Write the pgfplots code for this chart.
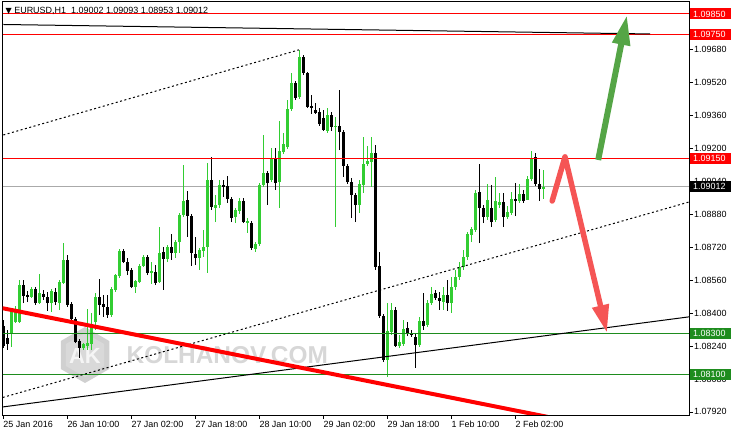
\documentclass[border=0pt]{standalone}
\usepackage{fontspec}
\setmainfont{Liberation Sans}
\newfontfamily\dejavu{DejaVu Sans}
\usepackage{pgfplots}
\pgfplotsset{compat=1.18}
\usepackage{pgfplotstable}
\usetikzlibrary{arrows.meta}
\definecolor{bull}{RGB}{50,205,50}
\definecolor{lvlgreen}{RGB}{30,140,30}
\definecolor{arrowgreen}{RGB}{85,165,70}
\definecolor{arrowred}{RGB}{245,85,85}
\definecolor{bidgray}{RGB}{170,170,170}
\definecolor{wm}{RGB}{192,192,192}

\pgfplotstableread{
i o h l c
0 1.08337 1.08366 1.08230 1.08240
1 1.08279 1.08318 1.08221 1.08250
5 1.08536 1.08560 1.08448 1.08482
6 1.08487 1.08507 1.08453 1.08478
8 1.08516 1.08526 1.08439 1.08448
10 1.08492 1.08512 1.08463 1.08478
11 1.08478 1.08502 1.08410 1.08448
13 1.08502 1.08521 1.08439 1.08453
16 1.08657 1.08681 1.08429 1.08439
17 1.08444 1.08453 1.08366 1.08371
18 1.08371 1.08381 1.08254 1.08259
19 1.08264 1.08274 1.08182 1.08230
24 1.08478 1.08565 1.08390 1.08439
25 1.08444 1.08487 1.08381 1.08429
26 1.08429 1.08487 1.08376 1.08390
30 1.08701 1.08710 1.08642 1.08647
31 1.08647 1.08667 1.08584 1.08604
32 1.08609 1.08618 1.08521 1.08526
36 1.08672 1.08681 1.08584 1.08594
38 1.08599 1.08633 1.08536 1.08546
40 1.08696 1.08720 1.08512 1.08662
42 1.08720 1.08783 1.08657 1.08691
46 1.08948 1.08992 1.08769 1.08870
47 1.08870 1.08880 1.08628 1.08691
48 1.08686 1.08769 1.08633 1.08667
52 1.09045 1.09157 1.08900 1.08914
55 1.09021 1.09045 1.08963 1.09011
56 1.09016 1.09064 1.08934 1.08953
57 1.08953 1.08963 1.08841 1.08861
60 1.08943 1.08958 1.08836 1.08841
62 1.08836 1.08846 1.08706 1.08715
66 1.09079 1.09089 1.08924 1.09030
68 1.09152 1.09200 1.08997 1.09030
73 1.09515 1.09525 1.09433 1.09443
75 1.09642 1.09651 1.09554 1.09564
76 1.09564 1.09569 1.09394 1.09399
77 1.09404 1.09457 1.09365 1.09394
78 1.09385 1.09418 1.09365 1.09370
79 1.09375 1.09394 1.09307 1.09317
80 1.09346 1.09385 1.09283 1.09288
82 1.09360 1.09375 1.09283 1.09302
84 1.09307 1.09482 1.09190 1.09278
85 1.09278 1.09288 1.09060 1.09113
86 1.09113 1.09123 1.09026 1.09035
87 1.09035 1.09055 1.08861 1.08972
88 1.08972 1.08982 1.08841 1.08924
93 1.09176 1.09215 1.08609 1.08623
94 1.08628 1.08696 1.08376 1.08386
95 1.08386 1.08395 1.08162 1.08172
98 1.08415 1.08429 1.08235 1.08240
101 1.08327 1.08356 1.08288 1.08298
102 1.08303 1.08318 1.08284 1.08293
103 1.08284 1.08298 1.08133 1.08245
105 1.08361 1.08497 1.08318 1.08337
108 1.08497 1.08512 1.08463 1.08473
109 1.08473 1.08502 1.08415 1.08458
111 1.08487 1.08560 1.08410 1.08448
119 1.08987 1.09123 1.08739 1.08909
120 1.08909 1.08924 1.08836 1.08866
122 1.08909 1.09021 1.08817 1.08841
125 1.08938 1.08982 1.08817 1.08866
128 1.08953 1.09030 1.08870 1.08943
130 1.08977 1.08997 1.08934 1.08943
133 1.09157 1.09176 1.09016 1.09026
134 1.09026 1.09098 1.08943 1.09000
}\bear

\pgfplotstableread{
i o h l c
2 1.08303 1.08415 1.08235 1.08410
3 1.08356 1.08434 1.08352 1.08415
4 1.08356 1.08560 1.08352 1.08536
7 1.08478 1.08526 1.08473 1.08516
9 1.08448 1.08589 1.08444 1.08497
12 1.08448 1.08516 1.08405 1.08507
14 1.08448 1.08560 1.08415 1.08550
15 1.08546 1.08739 1.08541 1.08657
20 1.08230 1.08254 1.08221 1.08250
21 1.08240 1.08419 1.08221 1.08254
22 1.08250 1.08400 1.08221 1.08347
23 1.08356 1.08497 1.08318 1.08478
27 1.08390 1.08526 1.08381 1.08516
28 1.08512 1.08589 1.08502 1.08584
29 1.08579 1.08710 1.08570 1.08701
33 1.08526 1.08560 1.08497 1.08555
34 1.08550 1.08638 1.08546 1.08628
35 1.08628 1.08681 1.08623 1.08672
37 1.08594 1.08647 1.08541 1.08604
39 1.08550 1.08817 1.08546 1.08691
41 1.08662 1.08730 1.08647 1.08720
43 1.08691 1.08754 1.08667 1.08744
44 1.08744 1.08885 1.08691 1.08875
45 1.08875 1.09118 1.08866 1.08943
49 1.08667 1.08715 1.08609 1.08706
50 1.08701 1.08803 1.08672 1.08720
51 1.08720 1.09127 1.08594 1.09045
53 1.08909 1.08972 1.08841 1.08924
54 1.08924 1.09045 1.08909 1.09021
58 1.08866 1.08909 1.08836 1.08900
59 1.08895 1.08958 1.08880 1.08943
61 1.08836 1.08861 1.08788 1.08846
63 1.08710 1.08744 1.08696 1.08735
64 1.08735 1.09030 1.08725 1.09021
65 1.09021 1.09263 1.09011 1.09079
67 1.09045 1.09200 1.09035 1.09147
69 1.09035 1.09331 1.08909 1.09186
70 1.09181 1.09273 1.09171 1.09220
71 1.09205 1.09433 1.09195 1.09389
72 1.09389 1.09564 1.09380 1.09515
74 1.09448 1.09676 1.09438 1.09642
81 1.09283 1.09394 1.09273 1.09360
83 1.09302 1.09351 1.08817 1.09307
89 1.08924 1.09045 1.08885 1.09026
90 1.09021 1.09254 1.08982 1.09123
91 1.09123 1.09210 1.09113 1.09137
92 1.09132 1.09254 1.09011 1.09176
96 1.08172 1.08448 1.08090 1.08313
97 1.08308 1.08448 1.08293 1.08415
99 1.08240 1.08293 1.08230 1.08259
100 1.08250 1.08366 1.08240 1.08322
104 1.08245 1.08381 1.08235 1.08361
106 1.08342 1.08463 1.08332 1.08448
107 1.08448 1.08526 1.08439 1.08492
110 1.08453 1.08526 1.08415 1.08487
112 1.08448 1.08575 1.08400 1.08526
113 1.08526 1.08609 1.08512 1.08575
114 1.08575 1.08647 1.08560 1.08623
115 1.08623 1.08706 1.08609 1.08672
116 1.08672 1.08793 1.08657 1.08783
117 1.08778 1.08817 1.08744 1.08807
118 1.08803 1.08997 1.08793 1.08982
121 1.08866 1.09026 1.08851 1.08948
123 1.08851 1.09060 1.08841 1.08943
124 1.08924 1.08982 1.08909 1.08938
126 1.08866 1.08919 1.08856 1.08890
127 1.08885 1.08987 1.08875 1.08953
129 1.08943 1.09026 1.08934 1.08977
131 1.08948 1.09064 1.08948 1.09050
132 1.09050 1.09186 1.09040 1.09147
135 1.09002 1.09093 1.08953 1.09012
}\bull

\newcommand{\tf}{\fontsize{9}{9.5}\selectfont}

\begin{document}
\begin{tikzpicture}[x=1bp,y=1bp]
% watermark (background)
\begin{scope}[opacity=0.75]
  \fill[wm] (82.5,60) +(90:28) -- +(150:28) -- +(210:28) -- +(270:28) -- +(330:28) -- +(30:28) -- cycle;
  \fill[wm!55] (82.5,60) +(90:22) -- +(150:22) -- +(210:22) -- +(270:22) -- +(330:22) -- +(30:22) -- cycle;
  \node[text=white, font=\bfseries\fontsize{22}{22}\selectfont, inner sep=0pt] at (82.5,59) {AK};
  \node[anchor=west, text=wm!85, font=\bfseries\fontsize{24.5}{24.5}\selectfont, inner sep=0pt] at (124,60) {KOLHANOV.COM};
\end{scope}

\begin{axis}[
  at={(0,0)}, anchor=south west, scale only axis,
  width=686.5bp, height=414bp,
  xmin=-0.2, xmax=171.4, ymin=1.07905, ymax=1.09913,
  axis line style={line width=0.8bp, black},
  tick style={line width=0.8bp, black},
  tick align=outside, major tick length=4bp,
  xtick pos=bottom, ytick pos=right,
  xtick={0,16,32,48,64,80,96,112,128},
  xticklabels={25 Jan 2016, 26 Jan 10:00, 27 Jan 02:00, 27 Jan 18:00, 28 Jan 10:00, 29 Jan 02:00, 29 Jan 18:00, 1 Feb 10:00, 2 Feb 02:00},
  ytick={1.0792,1.0808,1.0824,1.0840,1.0856,1.0872,1.0888,1.0904,1.0920,1.0936,1.0952,1.0968},
  yticklabels={1.07920,1.08080,1.08240,1.08400,1.08560,1.08720,1.08880,1.09040,1.09200,1.09360,1.09520,1.09680},
  xticklabel style={anchor=north west, inner sep=0pt, yshift=-2bp, font=\tf},
  yticklabel style={anchor=west, inner sep=0pt, xshift=1bp, font=\tf},
]
% bid line
\addplot[bidgray, line width=1bp] coordinates {(-0.2,1.09012) (171.4,1.09012)};

% wicks
\addplot[draw=none, error bars/.cd, y dir=plus, y explicit, error mark=none,
  error bar style={draw=black, line width=1bp}]
  table[x=i, y=l, y error plus expr=\thisrow{h}-\thisrow{l}] {\bear};
\addplot[draw=none, error bars/.cd, y dir=plus, y explicit, error mark=none,
  error bar style={draw=bull, line width=1bp}]
  table[x=i, y=l, y error plus expr=\thisrow{h}-\thisrow{l}] {\bull};
% bodies
\addplot[draw=none, error bars/.cd, y dir=plus, y explicit, error mark=none,
  error bar style={draw=black, line width=2.8bp}]
  table[x=i, y=c, y error plus expr=\thisrow{o}-\thisrow{c}] {\bear};
\addplot[draw=none, error bars/.cd, y dir=plus, y explicit, error mark=none,
  error bar style={draw=bull, line width=2.8bp}]
  table[x=i, y=o, y error plus expr=\thisrow{c}-\thisrow{o}] {\bull};

% horizontal levels
\addplot[red, line width=1bp] coordinates {(-0.2,1.09850) (171.4,1.09850)};
\addplot[red, line width=1bp] coordinates {(-0.2,1.09750) (171.4,1.09750)};
\addplot[red, line width=1bp] coordinates {(-0.2,1.09150) (171.4,1.09150)};
\addplot[lvlgreen, line width=1bp] coordinates {(-0.2,1.08300) (171.4,1.08300)};
\addplot[lvlgreen, line width=1bp] coordinates {(-0.2,1.08100) (171.4,1.08100)};

% trend lines
\addplot[black, line width=1bp] coordinates {(0,1.09799) (161.7,1.09753)};
\addplot[black, line width=1bp, dash pattern=on 2bp off 2.5bp] coordinates {(0,1.09263) (73.9,1.09676)};
\addplot[black, line width=1bp, dash pattern=on 2bp off 2.5bp] coordinates {(-0.15,1.07990) (171.4,1.08938)};
\addplot[black, line width=1bp] coordinates {(-0.15,1.07944) (171.4,1.08381)};
\addplot[red, line width=4bp] coordinates {(-0.2,1.08423) (136,1.07896)};

% arrows
\addplot[arrowgreen, line width=6bp, -{Triangle[length=30bp,width=17bp]}] coordinates {(148.7,1.09142) (155.9,1.09845)};
\addplot[arrowred, line width=5.5bp, line join=round, line cap=round, -{Triangle[length=28bp,width=16bp]}] coordinates {(137.2,1.08943) (140.4,1.09157) (150.9,1.08303)};

\coordinate (b1) at (axis cs:171.4,1.09850);
\coordinate (b2) at (axis cs:171.4,1.09750);
\coordinate (b3) at (axis cs:171.4,1.09150);
\coordinate (b4) at (axis cs:171.4,1.09012);
\coordinate (b5) at (axis cs:171.4,1.08300);
\coordinate (b6) at (axis cs:171.4,1.08100);
\end{axis}

\tikzset{pbox/.style={anchor=west, xshift=1bp, text=white, font=\tf, inner xsep=3bp, inner ysep=1.2bp, text width=35bp, align=left, minimum height=11bp}}
\node[pbox, fill=red] at (b1) {1.09850};
\node[pbox, fill=red] at (b2) {1.09750};
\node[pbox, fill=red] at (b3) {1.09150};
\node[pbox, fill=black] at (b4) {1.09012};
\node[pbox, fill=lvlgreen] at (b5) {1.08300};
\node[pbox, fill=lvlgreen] at (b6) {1.08100};

\node[anchor=west, font=\tf, inner sep=0pt] at (3,404) {{\dejavu\fontsize{8}{8}\selectfont ▼}\ EURUSD,H1\ \ 1.09002 1.09093 1.08953 1.09012};

\pgfresetboundingbox
\path[use as bounding box] (-2.5,-21) rectangle (728.5,415);
\end{tikzpicture}
\end{document}
